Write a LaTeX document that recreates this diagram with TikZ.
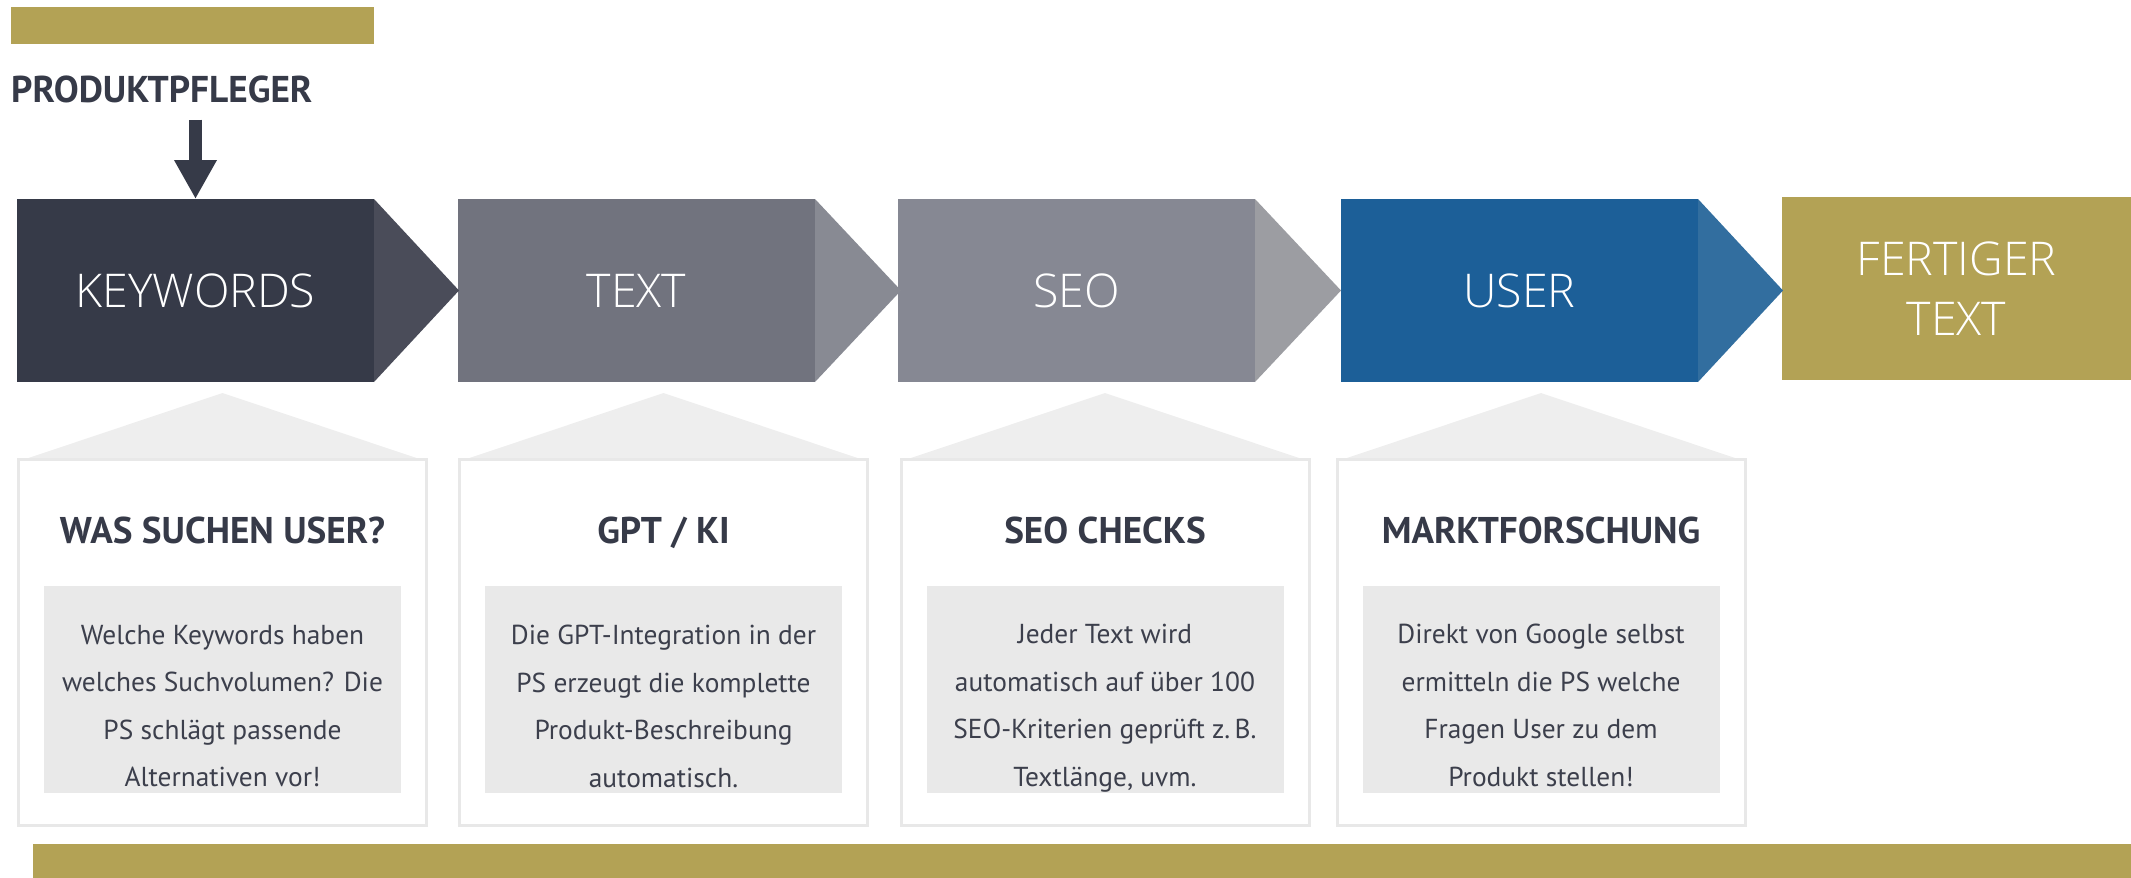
\documentclass[tikz,border=0pt]{standalone}
\usepackage{fontspec}
\setmainfont{PT Sans}
\newfontfamily\lightfont{Open Sans Light}
\usetikzlibrary{arrows.meta}
\definecolor{gold}{HTML}{B3A255}
\definecolor{dark}{HTML}{363A48}
\definecolor{darktri}{HTML}{4A4C59}
\definecolor{textbox}{HTML}{71737E}
\definecolor{texttri}{HTML}{888A93}
\definecolor{seobox}{HTML}{868893}
\definecolor{seotri}{HTML}{9C9DA2}
\definecolor{userbox}{HTML}{1C5F98}
\definecolor{usertri}{HTML}{326E9F}
\definecolor{cardline}{HTML}{E8E8E8}
\definecolor{roofgray}{HTML}{EEEEEE}
\definecolor{innergray}{HTML}{E9E9E9}
\definecolor{bodytext}{HTML}{3C3F4C}
\begin{document}
\begin{tikzpicture}[x=1pt,y=-1pt,
  stage/.style={minimum width=357pt, minimum height=183pt, inner sep=0pt, outer sep=0pt,
    anchor=north west, text=white, font=\lightfont\fontsize{46.5}{60}\selectfont, align=center},
  card/.style={draw=cardline, line width=3pt, fill=white, minimum width=408pt,
    minimum height=366pt, inner sep=0pt, outer sep=0pt, anchor=north west},
  roof/.style={fill=roofgray},
  innerbox/.style={fill=innergray, minimum width=357pt, minimum height=207pt,
    inner sep=0pt, outer sep=0pt, anchor=north},
  cardtitle/.style={anchor=base, inner sep=0pt, text=dark,
    font=\fontsize{37.2}{46}\selectfont\bfseries},
  cardbody/.style={anchor=north, inner sep=0pt, text=bodytext, align=center,
    font=\fontsize{27.4}{47.5}\selectfont},
  bar/.style={fill=gold}
]
\useasboundingbox (0,0) rectangle (2131,878);

% gold bars
\fill[bar] (11,7) rectangle (374,44);
\fill[bar] (33,844) rectangle (2131,878);

% label and arrow
\node[anchor=base west, inner sep=0pt, text=dark, font=\fontsize{37.3}{42}\selectfont\bfseries]
  (lbl) at (11,102) {PRODUKTPFLEGER};

% stages
\node[stage, fill=dark] (kw) at (17,199) {KEYWORDS};
\node[stage, fill=textbox] (tx) at (458,199) {TEXT};
\node[stage, fill=seobox] (seo) at (898,199) {SEO};
\node[stage, fill=userbox] (us) at (1341,199) {USER};
\node[stage, fill=gold, minimum width=349pt] (ft) at (1782,197) {FERTIGER\\TEXT};

\fill[darktri] (kw.north east) -- ([xshift=85pt]kw.east) -- (kw.south east) -- cycle;
\fill[texttri] (tx.north east) -- ([xshift=86pt]tx.east) -- (tx.south east) -- cycle;
\fill[seotri] (seo.north east) -- ([xshift=86pt]seo.east) -- (seo.south east) -- cycle;
\fill[usertri] (us.north east) -- ([xshift=85pt]us.east) -- (us.south east) -- cycle;

\draw[line width=13pt, draw=dark, -{Triangle[width=40pt,length=39pt]}]
  ([yshift=-17pt]lbl.south -| kw.north) -- (kw.north);

% cards
\foreach \cx/\nm in {222.5/c1, 663.5/c2, 1105/c3, 1541/c4}{
  \fill[roof] (\cx-200,460) -- (\cx,393) -- (\cx+200,460) -- cycle;
  \node[card] (\nm) at (\cx-204,459.5) {};
  \node[innerbox] (\nm b) at (\cx,586) {};
}

\node[cardtitle] (t1) at (c1b |- 0,543) {WAS SUCHEN USER?};
\node[cardbody] (d1) at (c1b |- 0,625) {Welche Keywords haben\\welches Suchvolumen? Die\\PS schlägt passende\\Alternativen vor!};

\node[cardtitle] (t2) at (c2b |- 0,543) {GPT / KI};
\node[cardbody] (d2) at (c2b |- 0,625) {Die GPT-Integration in der\\PS erzeugt die komplette\\Produkt-Beschreibung\\automatisch.};

\node[cardtitle] (t3) at (c3b |- 0,543) {SEO CHECKS};
\node[cardbody] (d3) at (c3b |- 0,624) {Jeder Text wird\\automatisch auf über 100\\SEO-Kriterien geprüft z.\,B.\\Textlänge, uvm.};

\node[cardtitle] (t4) at (c4b |- 0,543) {MARKTFORSCHUNG};
\node[cardbody] (d4) at (c4b |- 0,624) {Direkt von Google selbst\\ermitteln die PS welche\\Fragen User zu dem\\Produkt stellen!};
\end{tikzpicture}
\end{document}
